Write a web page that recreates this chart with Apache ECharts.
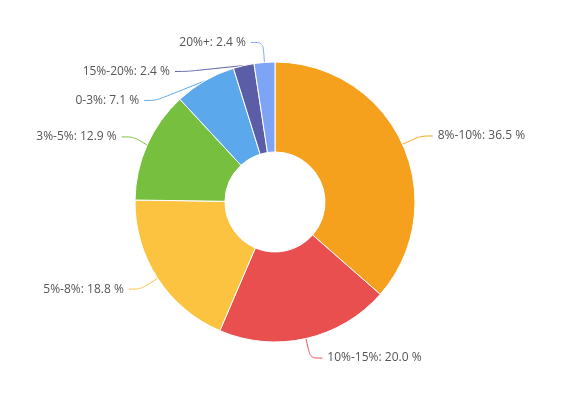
<!DOCTYPE html>
<html>
<head>
<meta charset="utf-8">
<script src="https://cdn.jsdelivr.net/npm/echarts@6/dist/echarts.min.js"></script>
<style>
  html, body { margin: 0; padding: 0; background: #fff; }
</style>
</head>
<body>
<div id="main" style="width: 564px;height:397px;"></div>
<script>
// 收益率区间占比
var categories = ['8%-10%', '10%-15%', '5%-8%', '3%-5%', '0-3%', '15%-20%', '20%+']
var values = [36.5, 20.0, 18.8, 12.9, 7.1, 2.4, 2.4]
var colors = ['#F5A11E', '#E94F4F', '#FBC340', '#77BF3F', '#5BA8EC', '#5B5EA6', '#7EA5F5']

var myChart = echarts.init(document.getElementById('main'))

var data = []
categories.forEach(function (name, i) {
  data.push({ name: name, value: values[i] })
})

var option = {
  color: colors,
  series: [
    {
      type: 'pie',
      center: [275, 202],
      radius: [50, 140],
      startAngle: 90,
      clockwise: true,
      avoidLabelOverlap: true,
      itemStyle: {
        borderColor: '#fff',
        borderWidth: 1
      },
      label: {
        color: '#555',
        fontSize: 12,
        lineHeight: 17,
        padding: [10, 0, 0, 0],
        fontFamily: 'Open Sans',
        formatter: function (p) {
          return p.name + ': ' + p.value.toFixed(1) + ' %'
        }
      },
      labelLine: {
        length: 20,
        length2: 12,
        smooth: 0.3
      },
      data: data
    }
  ]
}

myChart.setOption(option)
</script>
</body>
</html>
